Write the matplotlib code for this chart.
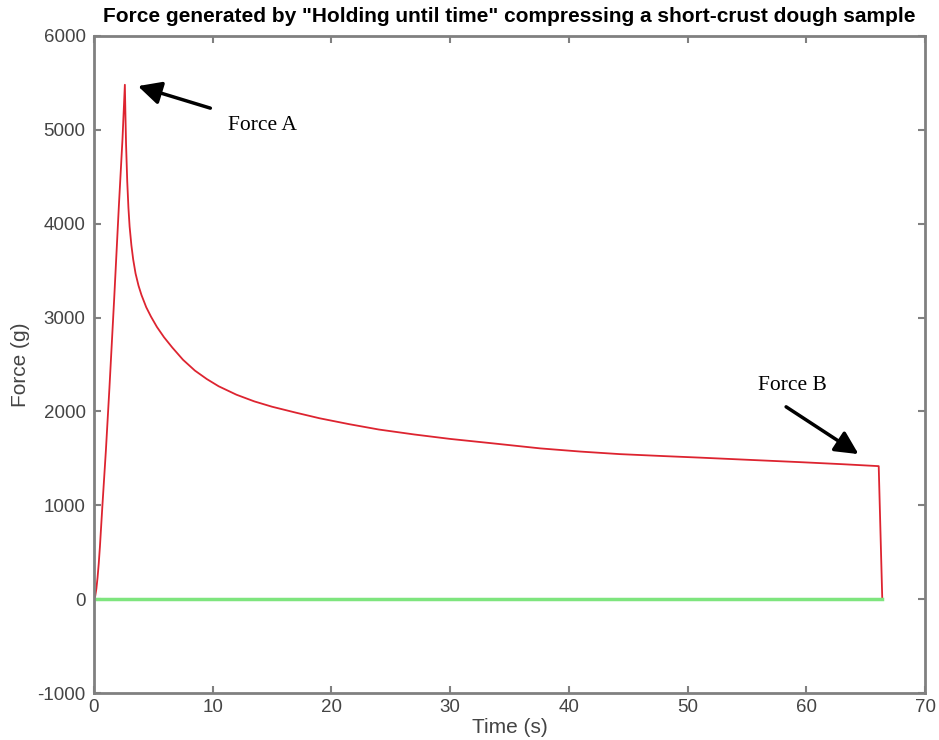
import matplotlib.pyplot as plt
import numpy as np

zeit = [0, 0.1, 0.2, 0.3, 0.4, 0.5, 0.6, 0.7, 0.85, 1.0,
        1.3, 1.7, 2.1, 2.4, 2.6,
        2.65, 2.7, 2.8, 2.9, 3.0, 3.15, 3.3, 3.5, 3.75, 4.0,
        4.4, 4.8, 5.3, 5.9, 6.6, 7.5, 8.5, 9.5, 10.5, 12.0,
        13.5, 15.0, 17.0, 19.0, 21.5, 24.0, 27.0, 30.0, 33.5, 37.6,
        41.0, 44.3, 48.0, 51.0, 55.0, 59.4, 63.0, 66.1, 66.4]
kraft = [0, 30, 110, 230, 380, 560, 770, 980, 1280, 1580,
         2250, 3200, 4200, 4900, 5480,
         5150, 4850, 4450, 4170, 3970, 3770, 3620, 3470, 3340, 3240,
         3110, 3010, 2900, 2790, 2680, 2550, 2435, 2345, 2268, 2178,
         2107, 2050, 1987, 1927, 1864, 1807, 1754, 1707, 1661, 1606,
         1572, 1545, 1524, 1508, 1485, 1460, 1438, 1417, 0]
null_zeit = [0, 66.4]
null_kraft = [0, 0]

plt.rcParams['font.family'] = ['Liberation Sans', 'DejaVu Sans']
plt.rcParams['axes.unicode_minus'] = False

fig = plt.figure(figsize=(9.39, 7.4), dpi=100)
ax = fig.add_axes([0.1001, 0.0635, 0.885, 0.8879])

ax.plot(zeit, kraft, color='#dd2430', lw=1.3)
ax.plot(null_zeit, null_kraft, color='#7ee57e', lw=2.5)

ax.set_xlim(0, 70)
ax.set_ylim(-1000, 6000)
ax.set_xticks(np.arange(0, 71, 10))
ax.set_yticks(np.arange(-1000, 6001, 1000))

for s in ax.spines.values():
    s.set_color('#808080')
    s.set_linewidth(2)
ax.tick_params(direction='in', length=5, width=1.5, color='#808080',
               labelsize=13.5, labelcolor='#444444', pad=6,
               top=True, right=True)
ax.tick_params(axis='x', pad=4)

ax.set_title('Force generated by "Holding until time" compressing a short-crust dough sample',
             fontsize=15, fontweight='bold', pad=10)
ax.set_xlabel('Time (s)', fontsize=15, color='#444444', labelpad=2)
ax.set_ylabel('Force (g)', fontsize=15, color='#444444', labelpad=5)

pfeil = dict(arrowstyle='-|>', mutation_scale=35, lw=2.5, color='black',
             shrinkA=0, shrinkB=0)
ax.annotate('', xy=(3.7, 5466), xytext=(9.8, 5231), arrowprops=pfeil)
ax.annotate('', xy=(64.4, 1545), xytext=(58.3, 2049), arrowprops=pfeil)
ax.text(11.3, 5050, 'Force A', family='Liberation Serif', fontsize=15.5, va='center')
ax.text(55.9, 2280, 'Force B', family='Liberation Serif', fontsize=15.5, va='center')

plt.savefig('out.png', dpi=100)
plt.close()
